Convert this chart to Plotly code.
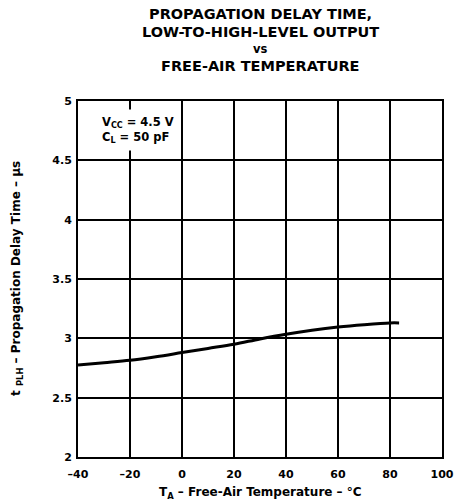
import plotly.graph_objects as go

temp_c = [-40, -30, -20, -10, 0, 10, 20, 30, 40, 50, 60, 70, 80, 83.5]
tplh_us = [2.776, 2.795, 2.815, 2.845, 2.88, 2.915, 2.95, 2.995, 3.035, 3.068, 3.095, 3.115, 3.13, 3.13]

x_ticks = [-40, -20, 0, 20, 40, 60, 80, 100]
x_ticklabels = ["–40", "–20", "0", "20", "40", "60", "80", "100"]
y_ticks = [2, 2.5, 3, 3.5, 4, 4.5, 5]
y_ticklabels = ["2", "2.5", "3", "3.5", "4", "4.5", "5"]

FONT = "DejaVu Sans, Arial, sans-serif"
W, H = 461, 504
ML, MR, MT, MB = 78, 19, 101, 47
PW, PH = W - ML - MR, H - MT - MB

def px_to_paper_x(px):
    return (px - ML) / PW

def px_to_paper_y(py):
    return (H - MB - py) / PH

fig = go.Figure()
fig.add_trace(go.Scatter(x=temp_c, y=tplh_us, mode="lines",
                         line=dict(color="black", width=3, shape="spline"),
                         showlegend=False, hoverinfo="skip"))

axis_common = dict(showgrid=True, gridcolor="black", gridwidth=1.5,
                   showline=True, linecolor="black", linewidth=2, mirror=True,
                   zeroline=False, ticks="", automargin=False,
                   tickfont=dict(family=FONT, size=11, color="black", weight="bold"))

fig.update_xaxes(range=[-40, 100], tickvals=x_ticks, ticktext=x_ticklabels,
                 ticklabelstandoff=6, **axis_common)
fig.update_yaxes(range=[2, 5], tickvals=y_ticks, ticktext=y_ticklabels,
                 ticklabelstandoff=2, **axis_common)

# axis titles
fig.add_annotation(text="T<sub>A</sub> – Free-Air Temperature – °C",
                   xref="paper", yref="paper", x=0.5, y=px_to_paper_y(493),
                   xanchor="center", yanchor="middle", showarrow=False,
                   font=dict(family=FONT, size=12, color="black", weight="bold"))
fig.add_annotation(text="t <sub>PLH</sub> – Propagation Delay Time – µs",
                   xref="paper", yref="paper", x=px_to_paper_x(17), y=0.5,
                   xanchor="center", yanchor="middle", showarrow=False, textangle=-90,
                   font=dict(family=FONT, size=12, color="black", weight="bold"))

title_lines = [("PROPAGATION DELAY TIME,", 14, 14.5),
               ("LOW-TO-HIGH-LEVEL OUTPUT", 32, 14.5),
               ("vs", 49, 11.5),
               ("FREE-AIR TEMPERATURE", 66, 14.5)]
for text, ypix, size in title_lines:
    fig.add_annotation(text=text, xref="paper", yref="paper", x=0.5,
                       y=px_to_paper_y(ypix),
                       xanchor="center", yanchor="middle", showarrow=False,
                       font=dict(family=FONT, size=size, color="black", weight="bold"))

fig.add_annotation(text="V<sub>CC</sub> = 4.5 V<br>C<sub>L</sub> = 50 pF",
                   xref="x", yref="y", x=-33, y=4.93, xanchor="left", yanchor="top",
                   align="left", showarrow=False, bgcolor="white",
                   borderpad=5,
                   font=dict(family=FONT, size=11.5, color="black", weight="bold"))

fig.update_layout(width=W, height=H,
                  margin=dict(l=ML, r=MR, t=MT, b=MB, autoexpand=False),
                  plot_bgcolor="white", paper_bgcolor="white")

fig.write_html("out.html")
